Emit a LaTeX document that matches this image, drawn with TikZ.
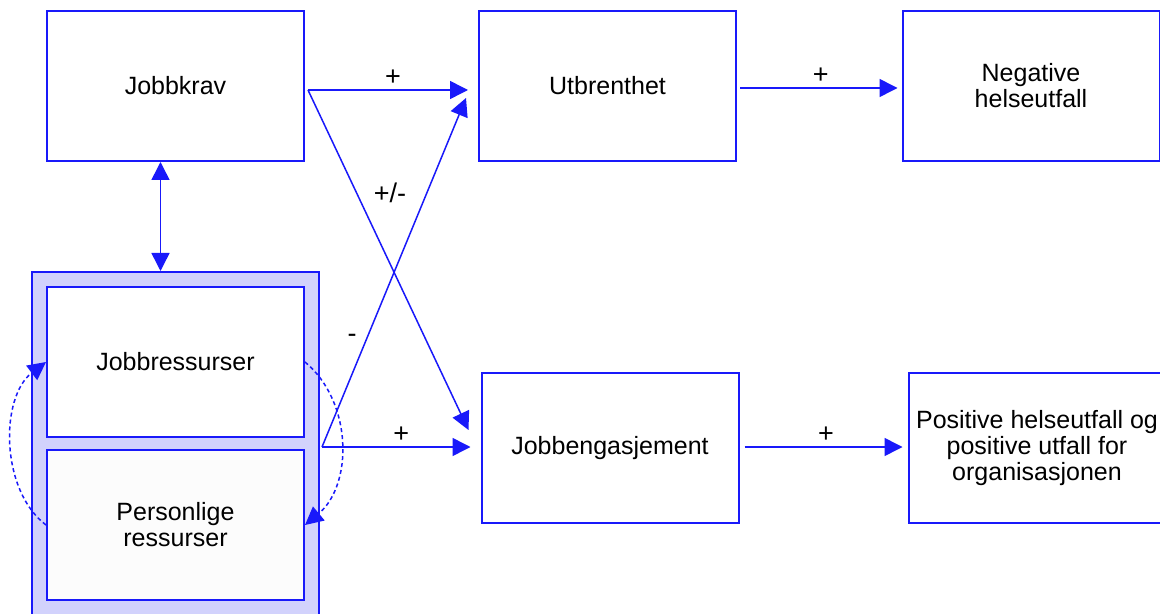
\documentclass[tikz,border=0pt]{standalone}
\usepackage{fontspec}
\setmainfont{Liberation Sans}
\usepackage{tikz}
\usetikzlibrary{
  	positioning,
  	arrows.meta,
  	calc,
  	fit,
  	backgrounds
  }
\definecolor{jdrblue}{RGB}{25,25,250}
\definecolor{grpfill}{RGB}{210,210,252}
\tikzstyle{box}=[draw=jdrblue,line width=1pt,fill=white,minimum width=128.5pt,minimum height=75pt,align=center,inner sep=2pt]
\tikzstyle{grp}=[draw=jdrblue,line width=1pt,fill=grpfill,inner sep=7pt]
\tikzstyle{arr}=[draw=jdrblue,line width=0.75pt,-{Triangle[length=9pt,width=9pt]}]
\tikzstyle{darr}=[draw=jdrblue,line width=0.75pt,dash pattern=on 2pt off 1.5pt,-{Triangle[length=9pt,width=9pt]}]
\tikzstyle{sign}=[inner sep=1pt,font=\fontsize{13.5}{14}\selectfont]

\begin{document}
\begin{tikzpicture}[x=0.5pt,y=-0.5pt,font=\fontsize{12.5}{13}\selectfont]
  \clip (0,0) rectangle (1160,614);
  \node[box] (krav) at (175.5,86) {Jobbkrav};
  \node[box] (utb) at (607.5,86) {Utbrenthet};
  \node[box] (neg) at (1031,86) {Negative\\helseutfall};
  \node[box] (res) at (175.5,362) {Jobbressurser};
  \node[box,fill=black!1] (pers) at (175.5,525) {Personlige\\ressurser};
  \node[box] (eng) at (610,448) {Jobbengasjement};
  \node[box] (pos) at (1037,448) {Positive helseutfall og\\positive utfall for\\organisasjonen};
  \begin{scope}[on background layer]
    \fill[white] (0,0) rectangle (1160,614);
    \node[grp, fit=(res)(pers)] (grpres) {};
  \end{scope}
%
  \coordinate (kravout) at ($(krav.east)+(3,4)$);
  \coordinate (resout) at (322,447);
  \coordinate (kv) at ($(krav.south)+(-15,0)$);
  \draw[arr,{Triangle[length=9pt,width=9pt]}-{Triangle[length=9pt,width=9pt]}] (kv) -- (kv |- grpres.north);
  \draw[arr,shorten >=5pt] (kravout) -- (kravout -| utb.west)
     node[midway,above=1pt,sign] (lp1) {+};
  \draw[arr] (kravout) -- ($(eng.west)+(-12,-18)$);
  \draw[arr] (resout) -- ($(utb.west)+(-12,12)$);
  \draw[arr,shorten >=5pt] (resout) -- (resout -| eng.west)
     node[midway,above=1pt,sign] (lp2) {+};
  \draw[arr,shorten >=2pt] ($(utb.east)+(3,2)$) -- ($(neg.west)+(0,2)$)
     node[midway,above=1pt,sign] (lp3) {+};
  \draw[arr,shorten >=2.5pt] ($(eng.east)+(5,-1)$) -- ($(pos.west)+(0,-1)$)
     node[midway,above=1pt,sign] (lp4) {+};
  \node[sign] (lpm) at (390,193) {+/-};
  \node[sign] (lmin) at (352,338) {-};
  % feedback between the resources
  \draw[darr] (pers.west) .. controls +(-46,-35) and +(-46,35) .. (res.west);
  \draw[darr] (res.east) .. controls +(48,40) and +(48,-40) .. (pers.east);
\end{tikzpicture}
\end{document}
